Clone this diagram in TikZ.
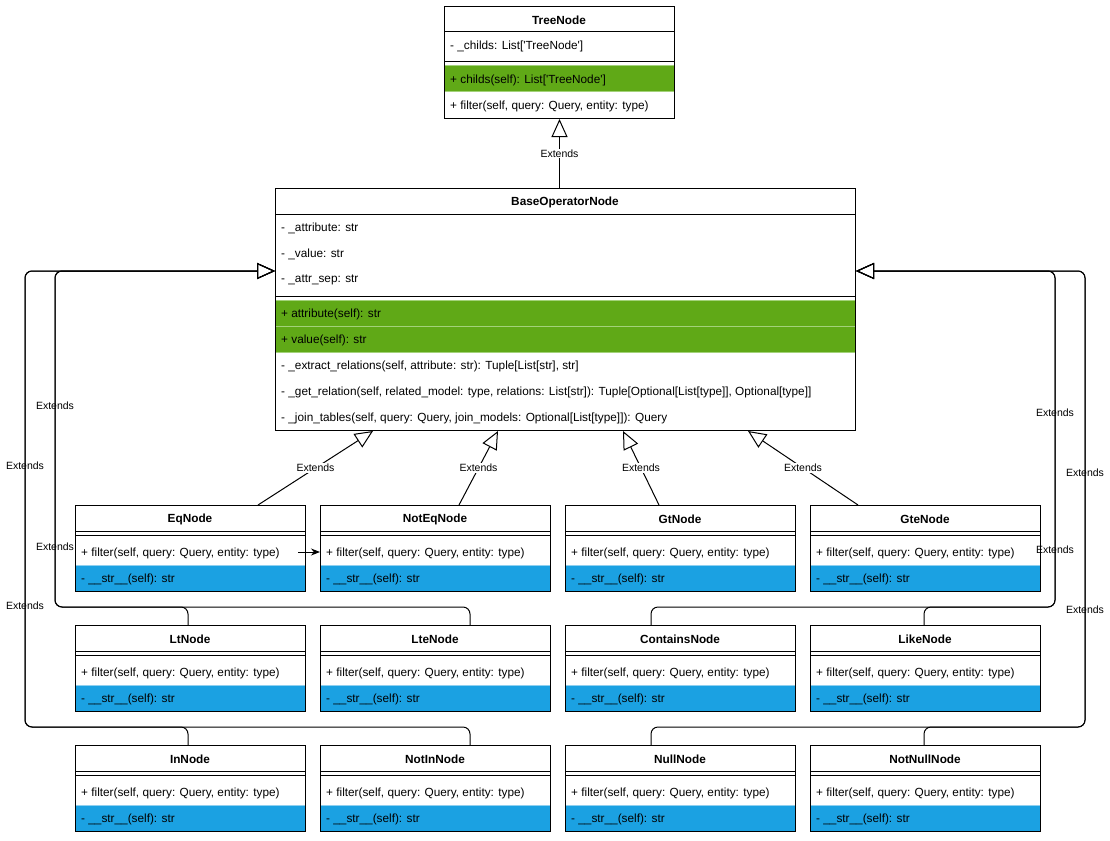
\documentclass[tikz,border=0pt]{standalone}
\usepackage{fontspec}
\setmainfont{Liberation Sans}
\usetikzlibrary{arrows.meta,calc}
\definecolor{gfill}{HTML}{60A917}
\definecolor{gline}{HTML}{A3D27A}
\definecolor{bfill}{HTML}{1BA1E2}
\definecolor{bline}{HTML}{8FD0F0}
\tikzset{
  member/.style={anchor=west, inner sep=0pt, yshift=-1pt, font=\fontsize{11.8}{14}\selectfont},
  ctitle/.style={inner sep=0pt, yshift=-1pt, font=\fontsize{11.8}{14}\selectfont\bfseries},
  boxframe/.style={draw=black, line width=1pt, fill=none, inner sep=0pt, anchor=north west},
  rowline/.style={line width=1pt},
  ext/.style={draw=black, line width=1pt, -{Triangle[open, length=18pt, width=16pt, line width=1pt]}},
  elbow/.style={ext, rounded corners=7pt},
  lblw/.style={fill=white, inner sep=1pt, font=\fontsize{10.5}{12}\selectfont},
  lbln/.style={inner sep=1pt, font=\fontsize{10.5}{12}\selectfont},
}
\newcommand\leafbox[4]{%
  \fill[bfill] (#2,#3+60) rectangle (#2+230,#3+86);
  \draw[bline, line width=1pt] (#2,#3+60) -- (#2+230,#3+60);
  \draw[rowline] (#2,#3+26) -- (#2+230,#3+26);
  \draw[rowline] (#2,#3+30) -- (#2+230,#3+30);
  \node[boxframe, minimum width=230pt, minimum height=86pt] (#1) at (#2,#3) {};
  \node[ctitle] (#1-t) at (#2+115,#3+13) {#4};
  \node[member] (#1-m1) at (#2+6,#3+47) {+ filter(self, query: Query, entity: type)};
  \node[member] (#1-m2) at (#2+6,#3+73) {- \_\_str\_\_(self): str};
}
\begin{document}
\begin{tikzpicture}[x=1pt,y=-1pt]
\useasboundingbox (0,0) rectangle (1110,840);

% TreeNode
\fill[gfill] (444,66) rectangle (674,92);
\draw[gline, line width=1pt] (444,66) -- (674,66);
\draw[gline, line width=1pt] (444,92) -- (674,92);
\draw[rowline] (444,32) -- (674,32);
\draw[rowline] (444,62) -- (674,62);
\node[boxframe, minimum width=230pt, minimum height=112pt] (tree) at (444,6) {};
\node[ctitle] (tree-t) at (559,19) {TreeNode};
\node[member] (tree-a1) at (450,45) {- \_childs: List[\textquotesingle TreeNode\textquotesingle]};
\node[member] (tree-m1) at (450,79) {+ childs(self): List[\textquotesingle TreeNode\textquotesingle]};
\node[member] (tree-m2) at (450,105) {+ filter(self, query: Query, entity: type)};

% BaseOperatorNode
\fill[gfill] (275,300) rectangle (855,352);
\draw[gline, line width=1pt] (275,300) -- (855,300);
\draw[gline, line width=1pt] (275,326) -- (855,326);
\draw[gline, line width=1pt] (275,352) -- (855,352);
\draw[rowline] (275,214) -- (855,214);
\draw[rowline] (275,296) -- (855,296);
\node[boxframe, minimum width=580pt, minimum height=242pt] (base) at (275,188) {};
\node[ctitle] (base-t) at (565,201) {BaseOperatorNode};
\node[member] (base-a1) at (281,227) {- \_attribute: str};
\node[member] (base-a2) at (281,253) {- \_value: str};
\node[member] (base-a3) at (281,279) {- \_attr\_sep: str};
\node[member] (base-m1) at (281,313) {+ attribute(self): str};
\node[member] (base-m2) at (281,339) {+ value(self): str};
\node[member] (base-m3) at (281,365) {- \_extract\_relations(self, attribute: str): Tuple[List[str], str]};
\node[member] (base-m4) at (281,391) {- \_get\_relation(self, related\_model: type, relations: List[str]): Tuple[Optional[List[type]], Optional[type]]};
\node[member] (base-m5) at (281,417) {- \_join\_tables(self, query: Query, join\_models: Optional[List[type]]): Query};

% leaf classes
\leafbox{eq}{75}{505}{EqNode}
\leafbox{noteq}{320}{505}{NotEqNode}
\leafbox{gt}{565}{505}{GtNode}
\leafbox{gte}{810}{505}{GteNode}
\leafbox{lt}{75}{625}{LtNode}
\leafbox{lte}{320}{625}{LteNode}
\leafbox{contains}{565}{625}{ContainsNode}
\leafbox{like}{810}{625}{LikeNode}
\leafbox{in}{75}{745}{InNode}
\leafbox{notin}{320}{745}{NotInNode}
\leafbox{null}{565}{745}{NullNode}
\leafbox{notnull}{810}{745}{NotNullNode}

% BaseOperatorNode -> TreeNode
\draw[ext] (base.north -| tree.south) -- node[lblw]{Extends} (tree.south);

% direct children
\draw[ext] ($(eq.north west)+(183,0)$) -- node[lblw]{Extends} ($(base.south west)+(98,0)$);
\draw[ext] ($(noteq.north west)+(139,0)$) -- node[lblw]{Extends} ($(base.south west)+(223,0)$);
\draw[ext] ($(gt.north west)+(94,0)$) -- node[lblw]{Extends} ($(base.south west)+(348,0)$);
\draw[ext] ($(gte.north west)+(48,0)$) -- node[lblw]{Extends} ($(base.south west)+(473,0)$);

% left elbows
\draw[elbow] ($(lt.north west)+(113,0)$) -- ++(0,-18) -- (55,607) -- node[lbln,pos=0.598]{Extends} (55,271) -- (base.west |- 0,271);
\draw[elbow] ($(lte.north west)+(150,0)$) -- ++(0,-18) -- (55,607) -- node[lbln,pos=0.18]{Extends} (55,271) -- (base.west |- 0,271);
\draw[elbow] ($(in.north west)+(113,0)$) -- ++(0,-18) -- (25,727) -- node[lbln,pos=0.572]{Extends} (25,271) -- (base.west |- 0,271);
\draw[elbow] ($(notin.north west)+(150,0)$) -- ++(0,-18) -- (25,727) -- node[lbln,pos=0.265]{Extends} (25,271) -- (base.west |- 0,271);

% right elbows
\draw[elbow] ($(contains.north west)+(86,0)$) -- ++(0,-18) -- (1055,607) -- node[lbln,pos=0.17]{Extends} (1055,271) -- (base.east |- 0,271);
\draw[elbow] ($(like.north west)+(114,0)$) -- ++(0,-18) -- (1055,607) -- node[lbln,pos=0.577]{Extends} (1055,271) -- (base.east |- 0,271);
\draw[elbow] ($(null.north west)+(86,0)$) -- ++(0,-18) -- (1085,727) -- node[lbln,pos=0.257]{Extends} (1085,271) -- (base.east |- 0,271);
\draw[elbow] ($(notnull.north west)+(114,0)$) -- ++(0,-18) -- (1085,727) -- node[lbln,pos=0.557]{Extends} (1085,271) -- (base.east |- 0,271);

% small arrow EqNode -> NotEqNode
\coordinate (a1) at (298,552);
\draw[line width=1pt, -{Stealth[length=9pt,width=7pt]}] (a1) -- (noteq.west |- a1);
\end{tikzpicture}
\end{document}
